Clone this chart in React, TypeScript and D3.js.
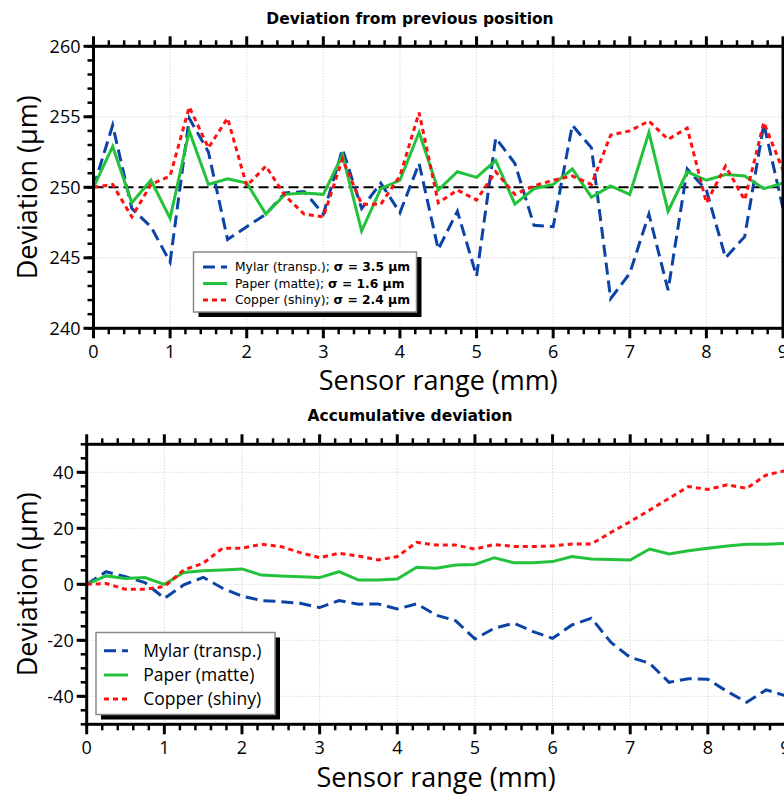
import React from 'react';
import * as d3 from 'd3';

const positions = [0, 0.25, 0.5, 0.75, 1, 1.25, 1.5, 1.75, 2, 2.25, 2.5, 2.75, 3, 3.25, 3.5, 3.75, 4, 4.25, 4.5, 4.75, 5, 5.25, 5.5, 5.75, 6, 6.25, 6.5, 6.75, 7, 7.25, 7.5, 7.75, 8, 8.25, 8.5, 8.75, 9];

const mylarDev = [250, 254.4, 248.5, 247.2, 244.7, 254.9, 252.5, 246.3, 247.2, 248.1, 249.6, 249.7, 248.1, 252.7, 248.5, 250.3, 248.2, 251.7, 245.6, 248.3, 243.7, 253.5, 251.7, 247.3, 247.2, 254.4, 252.8, 242.1, 243.9, 248.1, 242.7, 251.3, 249.8, 245.0, 246.5, 254.5, 248.5];
const paperDev = [250, 252.9, 248.9, 250.5, 247.8, 254.0, 250.2, 250.6, 250.3, 248.1, 249.5, 249.6, 249.5, 252.3, 246.9, 249.9, 250.5, 253.9, 249.8, 251.1, 250.7, 251.9, 248.8, 249.9, 250.2, 251.3, 249.3, 250.1, 249.5, 253.9, 248.3, 251.1, 250.5, 250.9, 250.8, 249.9, 250.3];
const copperDev = [250, 250.2, 247.9, 250.2, 250.8, 255.7, 252.8, 254.9, 250.1, 251.5, 249.4, 248.1, 247.9, 252.0, 248.8, 248.8, 250.8, 255.3, 248.9, 249.8, 249.1, 251.1, 249.5, 250.1, 250.5, 250.8, 250.2, 253.7, 254.0, 254.7, 253.4, 254.2, 248.9, 251.5, 249.1, 254.6, 251.2];

const mylarAcc = [0, 4.5, 2.7, 0.6, -5.0, -0.2, 2.5, -1.4, -4.2, -5.8, -6.2, -6.8, -8.3, -5.8, -7.1, -7.0, -8.8, -7.0, -11.0, -13.0, -19.5, -15.7, -13.9, -16.9, -19.3, -14.5, -12.1, -20.7, -26.1, -28.2, -35.0, -33.7, -33.9, -38.3, -42.1, -37.7, -39.8];
const paperAcc = [0, 3.0, 2.1, 2.4, 0, 4.2, 4.8, 5.1, 5.5, 3.3, 3.0, 2.7, 2.4, 4.5, 1.5, 1.5, 1.9, 6.1, 5.7, 6.9, 7.1, 9.5, 7.7, 7.7, 8.1, 9.9, 9.0, 8.9, 8.7, 12.6, 10.8, 12.0, 12.9, 13.7, 14.3, 14.3, 14.6];
const copperAcc = [0, 0.3, -1.8, -1.8, -0.8, 5.1, 7.5, 12.9, 12.9, 14.3, 13.5, 11.3, 9.5, 11.1, 10.1, 8.7, 9.9, 15.0, 14.0, 14.0, 12.6, 14.2, 13.5, 13.5, 13.7, 14.4, 14.4, 18.5, 22.4, 26.5, 30.7, 34.9, 33.9, 35.5, 34.3, 39.0, 40.6];

const xTicks = [0, 1, 2, 3, 4, 5, 6, 7, 8, 9];
const topYTicks = [240, 245, 250, 255, 260];
const bottomYTicks = [-40, -20, 0, 20, 40];

const seriesNames = ['Mylar (transp.)', 'Paper (matte)', 'Copper (shiny)'];
const sigmaLabels = ['σ = 3.5 µm', 'σ = 1.6 µm', 'σ = 2.4 µm'];

const styles = [
  { color: '#0b44a6', dash: '12,6' },
  { color: '#22c23a', dash: null as string | null },
  { color: '#ff1111', dash: '5,4' },
];

const SANS = "'Open Sans', 'Noto Sans', sans-serif";
const VERD = "'DejaVu Sans', Verdana, sans-serif";

type PanelProps = {
  title: string;
  titleY: number;
  left: number; right: number; top: number; bottom: number;
  yDomain: [number, number];
  yTicks: number[];
  yMinorStep: number;
  series: number[][];
  refLine?: number;
  xLabelY: number;
  legend: React.ReactNode;
};

function Panel(p: PanelProps) {
  const x = d3.scaleLinear().domain([0, 9]).range([p.left, p.right]);
  const y = d3.scaleLinear().domain(p.yDomain).range([p.bottom, p.top]);
  const xMinor = d3.range(0, 9.0001, 0.2).filter(v => Math.abs(v - Math.round(v)) > 1e-6);
  const yMinor = d3.range(p.yDomain[0], p.yDomain[1] + 1e-6, p.yMinorStep);
  const line = d3.line<number>().x((_, i) => x(positions[i])).y(d => y(d));
  const cx = (p.left + p.right) / 2;
  const cy = (p.top + p.bottom) / 2;
  return (
    <g>
      <text x={410} y={p.titleY} textAnchor="middle" fontFamily={VERD} fontWeight="bold" fontSize={15.5}>{p.title}</text>
      {/* grid */}
      {xTicks.slice(1, -1).map(t => (
        <line key={'gx' + t} x1={x(t)} x2={x(t)} y1={p.top} y2={p.bottom} stroke="#c8c8c8" strokeWidth={1} strokeDasharray="1,2" />
      ))}
      {p.yTicks.filter(t => t !== p.yDomain[0] && t !== p.yDomain[1]).map(t => (
        <line key={'gy' + t} x1={p.left} x2={p.right} y1={y(t)} y2={y(t)} stroke="#c8c8c8" strokeWidth={1} strokeDasharray="1,2" />
      ))}
      {p.refLine !== undefined && (
        <line x1={p.left} x2={p.right} y1={y(p.refLine)} y2={y(p.refLine)} stroke="#000" strokeWidth={2} strokeDasharray="10,5" />
      )}
      {/* series */}
      {p.series.map((s, i) => (
        <path key={'s' + i} d={line(s) || ''} fill="none" stroke={styles[i].color} strokeWidth={3}
          strokeDasharray={styles[i].dash || undefined} strokeLinejoin="miter" />
      ))}
      {/* frame */}
      <rect x={p.left} y={p.top} width={p.right - p.left} height={p.bottom - p.top} fill="none" stroke="#000" strokeWidth={3} />
      {/* x ticks */}
      {xTicks.map(t => (
        <g key={'xt' + t}>
          <line x1={x(t)} x2={x(t)} y1={p.bottom} y2={p.bottom + 10} stroke="#000" strokeWidth={3} />
          <line x1={x(t)} x2={x(t)} y1={p.top} y2={p.top - 10} stroke="#000" strokeWidth={3} />
          <text x={x(t)} y={p.bottom + 30} textAnchor="middle" fontFamily={SANS} fontSize={18}>{t}</text>
        </g>
      ))}
      {xMinor.map(t => (
        <g key={'xm' + t}>
          <line x1={x(t)} x2={x(t)} y1={p.bottom} y2={p.bottom + 6} stroke="#000" strokeWidth={2.5} />
          <line x1={x(t)} x2={x(t)} y1={p.top} y2={p.top - 6} stroke="#000" strokeWidth={2.5} />
        </g>
      ))}
      {/* y ticks */}
      {yMinor.map(t => (
        <line key={'ym' + t} x1={p.left} x2={p.left - 6} y1={y(t)} y2={y(t)} stroke="#000" strokeWidth={2.5} />
      ))}
      {p.yTicks.map(t => (
        <g key={'yt' + t}>
          <line x1={p.left} x2={p.left - 10} y1={y(t)} y2={y(t)} stroke="#000" strokeWidth={3} />
          <text x={p.left - 13} y={y(t) + 6.5} textAnchor="end" fontFamily={SANS} fontSize={18}>{t}</text>
        </g>
      ))}
      <text x={cx} y={p.xLabelY} textAnchor="middle" fontFamily={SANS} fontSize={27}>Sensor range (mm)</text>
      <text transform={`translate(37,${cy}) rotate(-90)`} textAnchor="middle" fontFamily={SANS} fontSize={27}>Deviation (µm)</text>
      {p.legend}
    </g>
  );
}

function Legend(props: { x: number; y: number; w: number; h: number; rows: number[]; sx1: number; sx2: number; tx: number; fontSize: number; family: string; sigma: boolean }) {
  const { x, y, w, h } = props;
  return (
    <g>
      <rect x={x + 5} y={y + 5} width={w} height={h} fill="#000" />
      <rect x={x} y={y} width={w} height={h} fill="#fff" stroke="#8a8a8a" strokeWidth={1.5} />
      {seriesNames.map((name, i) => (
        <g key={name}>
          <line x1={props.sx1} x2={props.sx2} y1={props.rows[i]} y2={props.rows[i]} stroke={styles[i].color} strokeWidth={3}
            strokeDasharray={styles[i].dash || undefined} />
          <text x={props.tx} y={props.rows[i] + props.fontSize * 0.36} fontFamily={props.family} fontSize={props.fontSize}>
            {props.sigma ? name + '; ' : name}
            {props.sigma && <tspan fontWeight="bold">{sigmaLabels[i]}</tspan>}
          </text>
        </g>
      ))}
    </g>
  );
}

export default function App() {
  return (
    <svg width={784} height={796} style={{ position: 'absolute', left: 0, top: 0, display: 'block' }}>
      <rect x={0} y={0} width={784} height={796} fill="#fff" />
      <Panel
        title="Deviation from previous position" titleY={24}
        left={93.5} right={783} top={46.3} bottom={328.3}
        yDomain={[240, 260]} yTicks={topYTicks} yMinorStep={1}
        series={[mylarDev, paperDev, copperDev]} refLine={250}
        xLabelY={390}
        legend={<Legend x={193.5} y={252} w={223} h={60} rows={[267, 283.5, 300]} sx1={203} sx2={227} tx={235} fontSize={12.3} family={VERD} sigma={true} />}
      />
      <Panel
        title="Accumulative deviation" titleY={421}
        left={86.7} right={785.5} top={444.3} bottom={724.3}
        yDomain={[-50, 50]} yTicks={bottomYTicks} yMinorStep={5}
        series={[mylarAcc, paperAcc, copperAcc]}
        xLabelY={786.5}
        legend={<Legend x={96} y={632.5} w={179} h={82} rows={[650.7, 675, 699]} sx1={104} sx2={128} tx={143.3} fontSize={17.5} family={SANS} sigma={false} />}
      />
    </svg>
  );
}
